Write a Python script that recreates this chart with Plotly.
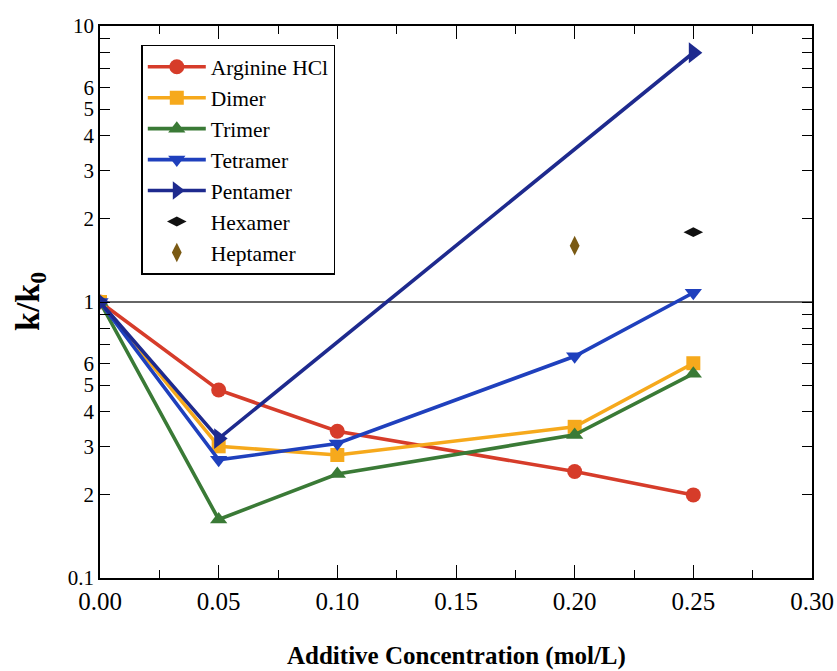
import plotly.graph_objects as go

# Additive concentration (mol/L)
conc = [0.00, 0.05, 0.10, 0.20, 0.25]

# Relative rate constant k/k0 for each additive
arginine = [1.0, 0.48, 0.34, 0.243, 0.20]
dimer = [1.0, 0.30, 0.279, 0.353, 0.60]
trimer = [1.0, 0.163, 0.238, 0.33, 0.55]
tetramer = [1.0, 0.268, 0.307, 0.636, 1.08]

pent_conc = [0.00, 0.05, 0.25]
pentamer = [1.0, 0.32, 8.0]

hex_conc = [0.25]
hexamer = [1.79]
hept_conc = [0.20]
heptamer = [1.60]

y_tickvals = [0.1, 0.2, 0.3, 0.4, 0.5, 0.6, 1, 2, 3, 4, 5, 6, 10]
y_ticktext = ["0.1", "2", "3", "4", "5", "6", "1", "2", "3", "4", "5", "6", "10"]
y_minorvals = [0.7, 0.8, 0.9, 7, 8, 9]
x_tickvals = [0.00, 0.05, 0.10, 0.15, 0.20, 0.25, 0.30]
x_ticktext = ["0.00", "0.05", "0.10", "0.15", "0.20", "0.25", "0.30"]

FONT = "Liberation Serif, Times New Roman, serif"

fig = go.Figure()

# reference line at k/k0 = 1
fig.add_trace(go.Scatter(x=[0, 0.30], y=[1, 1], mode="lines",
                         line=dict(color="#333333", width=1.5),
                         showlegend=False, hoverinfo="skip"))

series = [
    ("Arginine HCl", conc, arginine, "#d63c2a", "circle", 15),
    ("Dimer", conc, dimer, "#f6a91c", "square", 14),
    ("Trimer", conc, trimer, "#3a7a36", "triangle-up", 15),
    ("Tetramer", conc, tetramer, "#1f40bd", "triangle-down", 15),
    ("Pentamer", pent_conc, pentamer, "#1e2a8e", "triangle-right", 18),
]
for name, xs, ys, col, sym, sz in series:
    fig.add_trace(go.Scatter(
        x=xs, y=ys, name=name, mode="lines+markers",
        line=dict(color=col, width=3.6),
        marker=dict(symbol=sym, size=sz, color=col),
    ))

fig.add_trace(go.Scatter(x=hex_conc, y=hexamer, name="Hexamer", mode="markers",
                         marker=dict(symbol="diamond-wide", size=14, color="#111111")))
fig.add_trace(go.Scatter(x=hept_conc, y=heptamer, name="Heptamer", mode="markers",
                         marker=dict(symbol="diamond-tall", size=14, color="#7a5a14")))

fig.update_layout(
    width=837, height=671,
    margin=dict(l=100, r=25, t=26, b=93),
    paper_bgcolor="white", plot_bgcolor="white",
    font=dict(family=FONT, size=24, color="black"),
    legend=dict(x=0.058, y=0.966, xanchor="left", yanchor="top",
                bordercolor="black", borderwidth=1.5, bgcolor="white",
                font=dict(family=FONT, size=21.5), tracegroupgap=0,
                itemwidth=58),
    xaxis=dict(range=[0, 0.30], tickvals=x_tickvals, ticktext=x_ticktext,
               automargin=False,
               ticks="inside", ticklen=13, tickwidth=1.3, tickcolor="black",
               tickfont=dict(family=FONT, size=25),
               showline=True, linecolor="black", linewidth=1.6, mirror="ticks",
               showgrid=False, zeroline=False,
               minor=dict(dtick=0.025, tick0=0, ticks="inside", ticklen=8,
                          tickwidth=1.3, tickcolor="black", showgrid=False)),
    yaxis=dict(type="log", range=[-1, 1], tickvals=y_tickvals, ticktext=y_ticktext,
               automargin=False,
               ticks="inside", ticklen=10, tickwidth=1.3, tickcolor="black",
               tickfont=dict(family=FONT, size=21),
               showline=True, linecolor="black", linewidth=1.6, mirror="ticks",
               showgrid=False, zeroline=False,
               minor=dict(tickmode="array", tickvals=y_minorvals, ticks="inside",
                          ticklen=10, tickwidth=1.3, tickcolor="black",
                          showgrid=False)),
    annotations=[
        dict(text="<b>Additive Concentration (mol/L)</b>", xref="paper", yref="paper",
             x=0.5, y=0, yshift=-78, yanchor="middle", showarrow=False,
             font=dict(family=FONT, size=25)),
        dict(text="<b>k/k<sub>0</sub></b>", xref="paper", yref="paper",
             x=0, xshift=-70, y=0.5, textangle=-90, xanchor="center",
             showarrow=False, font=dict(family=FONT, size=34)),
    ],
)

fig.write_html("out.html")
